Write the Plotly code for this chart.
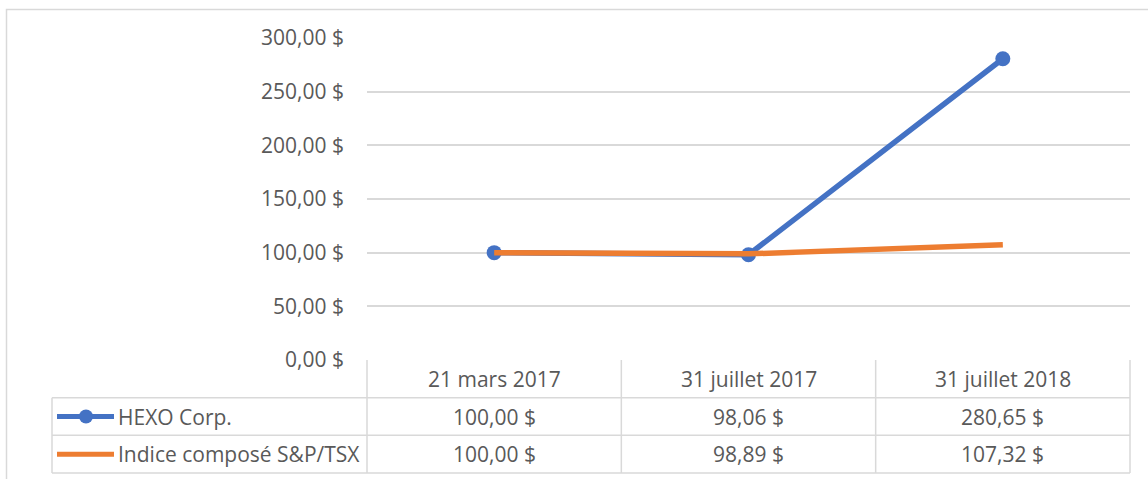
import plotly.graph_objects as go

# ---------------- data ----------------
categories = ["21 mars 2017", "31 juillet 2017", "31 juillet 2018"]
series_names = ["HEXO Corp.", "Indice composé S&P/TSX"]
hexo_values = [100.00, 98.06, 280.65]
tsx_values = [100.00, 98.89, 107.32]
y_tick_values = [0, 50, 100, 150, 200, 250, 300]
y_tick_labels = ["0,00 $", "50,00 $", "100,00 $", "150,00 $", "200,00 $", "250,00 $", "300,00 $"]

# ---------------- style ----------------
W, H = 1148, 479
BLUE = "#4472C4"
ORANGE = "#ED7D31"
GRID = "#D9D9D9"
TEXT = "#595959"
FONT = "Open Sans"
FS = 21
LW = 5.5

def fx(px):
    return px / W

def fy(py):
    return 1 - py / H

def money(v):
    return f"{v:.2f}".replace(".", ",") + " $"

PL, PR = 367, 1130
PT, PB = 38, 360
TB = 473
LEG_L = 52
n = len(categories)
colw = (PR - PL) / n

def x_of_px(px):
    return (px - PL) / colw - 0.5

rowh = (TB - PB) / 3.0
def y_of_px(py):
    return (py - PB) / rowh

pad = 3
x2_dom_px = (LEG_L - pad, PR + pad)
y2_dom_px = (PB - pad, TB + pad)

fig = go.Figure()

fig.add_trace(go.Scatter(
    x=list(range(n)), y=hexo_values, mode="lines+markers", name=series_names[0],
    line=dict(color=BLUE, width=LW), marker=dict(size=15, color=BLUE),
    xaxis="x", yaxis="y", showlegend=False, cliponaxis=False))
fig.add_trace(go.Scatter(
    x=list(range(n)), y=tsx_values, mode="lines", name=series_names[1],
    line=dict(color=ORANGE, width=LW),
    xaxis="x", yaxis="y", showlegend=False, cliponaxis=False))

key_x0, key_x1, key_xm = x_of_px(57), x_of_px(114), x_of_px(86)
fig.add_trace(go.Scatter(
    x=[key_x0, key_x1], y=[1.5, 1.5], mode="lines",
    line=dict(color=BLUE, width=5), xaxis="x2", yaxis="y2",
    showlegend=False, hoverinfo="skip"))
fig.add_trace(go.Scatter(
    x=[key_xm], y=[1.5], mode="markers",
    marker=dict(size=14, color=BLUE), xaxis="x2", yaxis="y2",
    showlegend=False, hoverinfo="skip"))
fig.add_trace(go.Scatter(
    x=[key_x0, key_x1], y=[2.5, 2.5], mode="lines",
    line=dict(color=ORANGE, width=5), xaxis="x2", yaxis="y2",
    showlegend=False, hoverinfo="skip"))

shapes = []
ln = dict(color=GRID, width=1.5)
xL = x_of_px(LEG_L)
for i in range(n + 1):
    shapes.append(dict(type="line", xref="x2", yref="y2",
                       x0=i - 0.5, x1=i - 0.5, y0=0, y1=3, line=ln))
shapes.append(dict(type="line", xref="x2", yref="y2",
                   x0=xL, x1=xL, y0=1, y1=3, line=ln))
for r in (1, 2, 3):
    shapes.append(dict(type="line", xref="x2", yref="y2",
                       x0=xL, x1=n - 0.5, y0=r, y1=r, line=ln))
shapes.append(dict(type="rect", xref="paper", yref="paper",
                   x0=fx(6.5), x1=fx(1152), y0=fy(485), y1=fy(9.5),
                   line=dict(color=GRID, width=1.5), layer="below"))

annotations = []
for i, c in enumerate(categories):
    annotations.append(dict(x=i, y=0.5, xref="x2", yref="y2", text=c,
                            showarrow=False, xanchor="center", yanchor="middle"))
for r, vals in enumerate([hexo_values, tsx_values]):
    for i, v in enumerate(vals):
        annotations.append(dict(x=i, y=r + 1.5, xref="x2", yref="y2", text=money(v),
                                showarrow=False, xanchor="center", yanchor="middle"))
    annotations.append(dict(x=x_of_px(116), y=r + 1.5, xref="x2", yref="y2",
                            text=series_names[r], showarrow=False,
                            xanchor="left", yanchor="middle"))

fig.update_layout(
    width=W, height=H, autosize=False,
    margin=dict(l=0, r=0, t=0, b=0, pad=0),
    paper_bgcolor="white", plot_bgcolor="rgba(0,0,0,0)",
    font=dict(family=FONT, size=FS, color=TEXT),
    showlegend=False,
    xaxis=dict(domain=[fx(PL), fx(PR)], range=[-0.5, n - 0.5],
               showticklabels=False, showgrid=False, zeroline=False,
               showline=False, ticks="", fixedrange=True),
    yaxis=dict(domain=[fy(PB), fy(PT)], range=[0, 300],
               tickvals=y_tick_values, ticktext=y_tick_labels,
               showgrid=True, gridcolor=GRID, gridwidth=1.5,
               zeroline=False, showline=False, ticks="",
               ticklabelstandoff=22, fixedrange=True, automargin=False,
               tickfont=dict(family=FONT, size=FS, color=TEXT)),
    xaxis2=dict(domain=[fx(x2_dom_px[0]), fx(x2_dom_px[1])],
                range=[x_of_px(x2_dom_px[0]), x_of_px(x2_dom_px[1])],
                visible=False, fixedrange=True, anchor="y2"),
    yaxis2=dict(domain=[fy(y2_dom_px[1]), fy(y2_dom_px[0])],
                range=[y_of_px(y2_dom_px[1]), y_of_px(y2_dom_px[0])],
                visible=False, fixedrange=True, anchor="x2"),
    shapes=shapes,
    annotations=annotations,
)

fig.write_html(
    "out.html",
    config=dict(displayModeBar=False, responsive=False),
    post_script="document.body.style.margin='0';document.body.style.overflow='hidden';",
)
